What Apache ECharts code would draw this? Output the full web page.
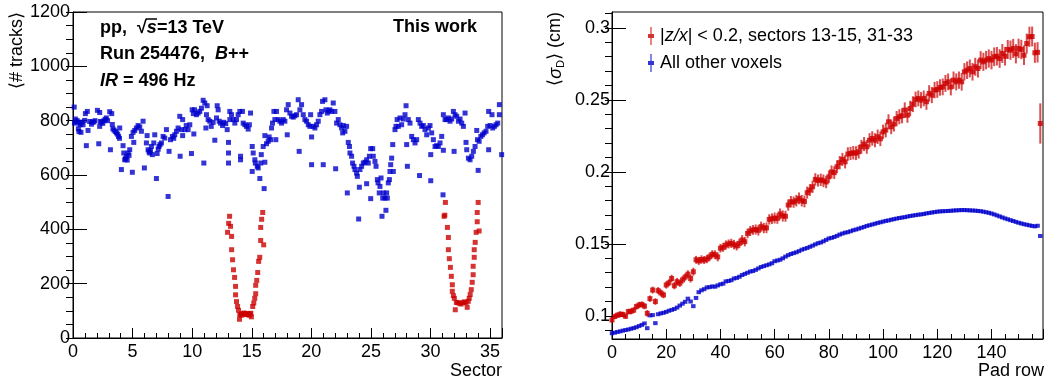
<!DOCTYPE html>
<html>
<head>
<meta charset="utf-8">
<script src="https://cdn.jsdelivr.net/npm/echarts@6/dist/echarts.min.js"></script>
<style>html,body{margin:0;padding:0;background:#fff}#c{width:1057px;height:387px}</style>
</head>
<body>
<div id="c"></div>
<script>
// ---------- Left panel: <# tracks> vs sector ----------
const blueSectorTracks = [
[0.1,850],[0.12,791],[0.2,806],[0.28,795],[0.35,800],[0.45,770],[0.5,760],[0.56,791],[0.6,785],[0.67,757],[0.75,795],[0.84,785],[0.98,801],[1.04,826],[1.12,708],[1.2,834],[1.26,764],[1.4,797],[1.55,787],[1.62,795],[1.75,795],[1.85,800],[2.05,838],[2.16,715],[2.24,830],[2.24,779],[2.3,797],[2.4,795],[2.5,790],[2.6,800],[2.7,805],[2.8,810],[2.9,800],[3.08,833],[3.14,693],[3.25,826],[3.3,786],[3.35,770],[3.45,765],[3.55,760],[3.65,755],[3.75,750],[3.82,742],[3.9,735],[3.92,773],
[4.06,620],[4.2,708],[4.26,681],[4.34,656],[4.4,660],[4.48,669],[4.55,655],[4.62,681],[4.7,672],[4.76,693],[4.9,742],[4.98,610],[5.04,757],[5.1,720],[5.18,764],[5.32,773],[5.46,782],[5.6,777],[5.74,761],[5.88,798],[5.99,626],[6.16,718],[6.22,745],[6.3,693],[6.38,685],[6.44,681],[6.5,690],[6.58,705],[6.66,675],[6.78,718],[6.86,748],[7.0,587],[7.06,679],[7.15,695],[7.22,705],[7.3,712],[7.42,718],[7.56,742],[7.7,736],[7.84,767],[7.98,521],
[8.06,687],[8.18,730],[8.34,742],[8.45,735],[8.54,748],[8.68,761],[8.82,773],[8.96,816],[8.99,669],[9.1,767],[9.2,804],[9.2,745],[9.4,767],[9.5,782],[9.66,767],[9.8,785],[9.94,679],[10.0,840],[10.1,826],[10.14,751],[10.2,840],[10.36,822],[10.5,828],[10.64,834],[10.78,846],[10.92,875],[10.98,644],[11.06,865],[11.15,773],[11.2,822],[11.26,855],[11.34,804],[11.48,798],[11.6,779],[11.76,794],[11.9,728],
[12.04,810],[12.1,855],[12.18,840],[12.27,798],[12.38,791],[12.55,782],[12.66,794],[12.82,789],[12.94,767],[13.05,720],[13.05,681],[13.05,644],[13.16,834],[13.16,804],[13.3,822],[13.44,804],[13.58,791],[13.72,804],[13.86,822],[14.0,834],[14.06,669],[14.06,656],[14.22,834],[14.28,791],[14.42,785],[14.56,779],[14.7,769],[14.8,785],[14.9,828],
[15.04,705],[15.04,613],[15.12,681],[15.26,656],[15.3,644],[15.46,632],[15.54,626],[15.68,587],[15.76,644],[15.8,675],[15.96,705],[16.04,550],[16.1,647],[16.1,745],[16.24,715],[16.38,724],[16.46,740],[16.58,730],[16.66,773],[16.74,791],[16.86,834],[16.94,804],[17.02,730],[17.08,834],[17.22,804],[17.36,798],[17.5,791],[17.64,804],[17.78,798],[17.92,840],[17.98,748],
[18.06,859],[18.2,828],[18.34,816],[18.48,813],[18.62,818],[18.76,822],[18.9,877],[18.98,687],[19.04,840],[19.18,859],[19.32,822],[19.46,804],[19.6,798],[19.74,785],[19.88,779],[19.94,822],[20.02,740],[20.02,638],[20.16,779],[20.3,773],[20.44,785],[20.58,798],[20.72,822],[20.86,834],[20.94,871],[21.0,638],[21.14,877],[21.23,840],[21.34,828],[21.45,835],[21.56,840],[21.7,834],[21.84,865],[21.98,834],
[22.04,623],[22.12,791],[22.26,804],[22.4,785],[22.54,773],[22.63,755],[22.68,782],[22.82,761],[22.96,779],[23.02,534],[23.1,720],[23.2,705],[23.24,681],[23.38,669],[23.46,644],[23.58,632],[23.66,620],[23.8,607],[23.86,595],[23.97,438],[24.03,555],[24.08,620],[24.22,632],[24.36,644],[24.5,647],[24.64,568],[24.64,656],[24.78,644],[24.87,669],[24.98,513],[24.98,697],
[25.15,697],[25.2,669],[25.34,650],[25.43,632],[25.54,583],[25.6,571],[25.7,534],[25.76,558],[25.85,589],[25.93,448],[25.99,515],[26.04,534],[26.18,515],[26.26,470],[26.32,534],[26.38,515],[26.46,571],[26.55,583],[26.6,613],[26.66,638],[26.74,662],[26.83,712],[26.88,613],
[27.02,767],[27.1,779],[27.2,804],[27.3,779],[27.44,810],[27.58,785],[27.72,806],[27.86,822],[27.95,855],[28.0,712],[28.06,632],[28.14,804],[28.28,791],[28.42,742],[28.56,730],[28.7,718],[28.84,730],[28.98,804],[29.08,598],[29.12,791],[29.26,779],[29.4,782],[29.54,767],[29.68,748],[29.82,773],[29.96,782],
[30.02,579],[30.02,675],[30.1,755],[30.24,730],[30.38,705],[30.52,708],[30.66,705],[30.8,718],[30.94,742],[31.05,527],[31.08,691],[31.08,822],[31.22,804],[31.36,804],[31.5,810],[31.64,798],[31.78,806],[31.92,834],[31.98,687],[32.06,822],[32.2,816],[32.34,798],[32.48,806],[32.62,791],[32.76,779],[32.9,828],[32.98,720],
[33.04,693],[33.18,662],[33.32,656],[33.46,669],[33.6,687],[33.74,705],[33.88,764],[33.94,730],[34.0,617],[34.08,724],[34.22,742],[34.36,748],[34.5,755],[34.66,761],[34.8,779],[34.88,834],[34.88,693],[35.0,782],[35.16,822],[35.22,773],[35.36,779],[35.5,785],[35.64,791],[35.78,859],[35.78,822],[35.97,675]
];
const redSectorTracks = [
[12.97,389],[13.06,422],[13.14,448],[13.22,411],[13.31,374],[13.31,325],[13.39,288],[13.47,251],[13.56,223],[13.64,190],[13.64,159],[13.72,134],[13.81,116],[13.89,102],[13.97,69],[14.0,86],[14.08,88],[14.17,84],[14.26,90],[14.36,92],[14.45,88],[14.5,87],[14.6,90],[14.64,88],[14.72,86],[14.78,84],[14.86,89],[14.92,91],[14.97,78],[15.08,116],[15.17,129],[15.25,146],[15.33,163],[15.33,194],[15.42,212],[15.5,241],[15.58,282],[15.67,297],[15.75,359],[15.75,407],[15.83,437],[15.92,462],[16.0,343],
[31.14,448],[31.2,452],[31.25,499],[31.42,407],[31.5,370],[31.5,325],[31.58,292],[31.67,260],[31.75,227],[31.83,196],[31.83,172],[31.92,156],[32.0,146],[32.08,104],[32.17,131],[32.28,130],[32.42,128],[32.56,125],[32.7,130],[32.83,133],[32.97,130],[33.08,113],[33.17,135],[33.25,146],[33.33,160],[33.42,178],[33.5,205],[33.58,233],[33.58,264],[33.67,297],[33.67,325],[33.75,352],[33.83,389],[33.92,428],[33.92,462],[34.0,499],[34.08,394]
];
const sectorTickLabels = [0,5,10,15,20,25,30,35];
const tracksTickLabels = [0,200,400,600,800,1000,1200];

// ---------- Right panel: <sigma_D> vs pad row (rows 0..158) ----------
const redSigma = [
.0972,.0996,.1005,.1012,.1010,.0998,.1030,.1032,.1040,.1065,
.1076,.1080,.1068,.1018,.1120,.1180,.1100,.1176,.1160,.1146,
.1215,.1230,.1260,.1210,.1238,.1227,.1250,.1270,.1290,.1260,
.1307,.1390,.1382,.1392,.1388,.1395,.1410,.1428,.1425,.1410,
.1470,.1476,.1492,.1500,.1504,.1495,.1486,.1504,.1527,.1516,
.1573,.1590,.1597,.1600,.1594,.1620,.1610,.1612,.1670,.1675,
.1680,.1677,.1708,.1694,.1692,.1770,.1793,.1790,.1800,.1816,
.1800,.1795,.1856,.1874,.1897,.1948,.1940,.1945,.1938,.1930,
.1966,.2000,.1995,.2036,.2064,.2087,.2070,.2124,.2128,.2133,
.2130,.2140,.2174,.2193,.2174,.2220,.2232,.2220,.2244,.2230,
.2278,.2290,.2348,.2313,.2332,.2370,.2383,.2390,.2429,.2394,
.2440,.2470,.2503,.2510,.2498,.2510,.2487,.2545,.2533,.2568,
.2572,.2586,.2590,.2614,.2625,.2590,.2637,.2625,.2637,.2625,
.2695,.2706,.2718,.2695,.2730,.2718,.2776,.2764,.2776,.2787,
.2776,.2799,.2803,.2787,.2822,.2803,.2850,.2845,.2857,.2820,
.2857,.2850,.2810,.2891,.2938,.2940,.2827,.2830,.2336
];
const redSigmaErr = [
.0020,.0019,.0020,.0021,.0020,.0019,.0020,.0021,.0020,.0021,
.0022,.0021,.0022,.0023,.0022,.0024,.0023,.0024,.0025,.0024,
.0025,.0024,.0026,.0025,.0026,.0025,.0027,.0026,.0027,.0028,
.0028,.0027,.0028,.0029,.0028,.0029,.0030,.0029,.0030,.0031,
.0030,.0031,.0032,.0031,.0032,.0033,.0032,.0033,.0034,.0033,
.0034,.0035,.0034,.0035,.0036,.0035,.0036,.0037,.0036,.0037,
.0038,.0037,.0038,.0039,.0038,.0039,.0040,.0039,.0040,.0041,
.0040,.0041,.0042,.0041,.0042,.0043,.0042,.0043,.0044,.0043,
.0044,.0045,.0044,.0045,.0046,.0045,.0046,.0047,.0046,.0047,
.0048,.0047,.0048,.0049,.0048,.0049,.0050,.0049,.0050,.0051,
.0050,.0051,.0052,.0051,.0052,.0053,.0052,.0053,.0054,.0053,
.0054,.0055,.0054,.0055,.0056,.0055,.0056,.0057,.0056,.0057,
.0058,.0057,.0058,.0059,.0058,.0059,.0060,.0059,.0060,.0061,
.0060,.0061,.0062,.0061,.0062,.0063,.0062,.0063,.0064,.0063,
.0064,.0065,.0064,.0065,.0066,.0065,.0066,.0067,.0066,.0067,
.0068,.0067,.0068,.0069,.0070,.0069,.0070,.0071,.0140
];
const blueSigma = [
.0880,.0884,.0889,.0893,.0898,.0902,.0906,.0911,.0916,.0922,
.0930,.0938,.0948,.0915,.1004,.1006,.0950,.1012,.1018,.1022,
.1028,.1036,.1042,.1048,.1058,.1072,.1085,.1098,.1120,.1100,
.1068,.1125,.1165,.1178,.1186,.1198,.1200,.1205,.1203,.1212,
.1220,.1224,.1240,.1243,.1248,.1260,.1264,.1272,.1284,.1292,
.1300,.1308,.1312,.1320,.1330,.1340,.1346,.1352,.1358,.1366,
.1380,.1385,.1390,.1400,.1412,.1422,.1430,.1436,.1442,.1450,
.1460,.1466,.1472,.1480,.1488,.1497,.1505,.1510,.1518,.1528,
.1538,.1542,.1548,.1556,.1565,.1572,.1578,.1582,.1588,.1595,
.1600,.1606,.1612,.1618,.1625,.1630,.1635,.1640,.1646,.1650,
.1655,.1660,.1663,.1668,.1672,.1676,.1680,.1683,.1686,.1690,
.1694,.1697,.1700,.1703,.1705,.1708,.1712,.1715,.1718,.1721,
.1724,.1726,.1727,.1728,.1729,.1730,.1732,.1733,.1734,.1735,
.1735,.1734,.1733,.1732,.1731,.1729,.1727,.1724,.1720,.1716,
.1711,.1705,.1698,.1691,.1684,.1677,.1671,.1665,.1659,.1653,
.1647,.1642,.1637,.1633,.1629,.1625,.1622,.1626,.1555
];
const padRowTickLabels = [0,20,40,60,80,100,120,140];
const sigmaTickLabels = [0.1,0.15,0.2,0.25,0.3];
const sigmaMinorTicks = [0.09,0.1,0.11,0.12,0.13,0.14,0.15,0.16,0.17,0.18,0.19,0.2,0.21,0.22,0.23,0.24,0.25,0.26,0.27,0.28,0.29,0.3,0.31];
const legendNames = ['|z/x| < 0.2, sectors 13-15, 31-33', 'All other voxels'];

// ---------- styling ----------
const FONT = 'Liberation Sans, Arial, Helvetica, sans-serif';
const BLUE = '#0000cc', RED = '#cc0000';
const chart = echarts.init(document.getElementById('c'), null, {renderer: 'canvas'});

function majorX(grid, max, interval, labels, len) {
  return {type:'value', gridIndex:grid, min:0, max:max, interval:interval, position:'bottom',
    axisLine:{show:true, lineStyle:{color:'#000', width:1}},
    axisTick:{show:true, inside:true, length:len, lineStyle:{color:'#000', width:1}},
    axisLabel:{show:true, margin:5, color:'#000', fontSize:18, fontFamily:FONT,
      formatter: v => labels.indexOf(v) >= 0 ? String(v) : ''},
    splitLine:{show:false}};
}
function minorX(grid, max, interval, len) {
  return {type:'value', gridIndex:grid, min:0, max:max, interval:interval, position:'bottom',
    axisLine:{show:false}, axisTick:{show:true, inside:true, length:len, lineStyle:{color:'#000', width:1}},
    axisLabel:{show:false}, splitLine:{show:false}};
}

const sqrtAnchor = {x: 146, y: 19};

const option = {
  animation: false,
  backgroundColor: '#fff',
  grid: [
    {left:73, top:12, width:429, height:326, show:true, borderColor:'#000', borderWidth:1, backgroundColor:'transparent'},
    {left:612, top:12, width:431, height:327, show:true, borderColor:'#000', borderWidth:1, backgroundColor:'transparent'}
  ],
  xAxis: [
    majorX(0, 36, 5, sectorTickLabels, 10),
    minorX(0, 36, 1, 5),
    majorX(1, 159, 20, padRowTickLabels, 10),
    minorX(1, 159, 5, 5)
  ],
  yAxis: [
    {type:'value', gridIndex:0, min:0, max:1200, interval:200,
      axisLine:{show:true, lineStyle:{color:'#000'}},
      axisTick:{show:true, inside:true, length:14, lineStyle:{color:'#000'}},
      axisLabel:{margin:3, color:'#000', fontSize:18, fontFamily:FONT,
        formatter: v => tracksTickLabels.indexOf(v) >= 0 ? String(v) : ''},
      splitLine:{show:false}},
    {type:'value', gridIndex:0, min:0, max:1200, interval:50,
      axisLine:{show:false}, axisTick:{show:true, inside:true, length:7, lineStyle:{color:'#000'}},
      axisLabel:{show:false}, splitLine:{show:false}},
    {type:'value', gridIndex:1, min:0.084, max:0.311,
      axisLine:{show:true, lineStyle:{color:'#000'}},
      axisTick:{show:true, inside:true, length:14, customValues:sigmaTickLabels, lineStyle:{color:'#000'}},
      axisLabel:{margin:2, color:'#000', fontSize:18, fontFamily:FONT, customValues:sigmaTickLabels,
        formatter: v => String(+v.toFixed(2))},
      splitLine:{show:false}},
    {type:'value', gridIndex:1, min:0.084, max:0.311,
      axisLine:{show:false},
      axisTick:{show:true, inside:true, length:7, customValues:sigmaMinorTicks, lineStyle:{color:'#000'}},
      axisLabel:{show:false}, splitLine:{show:false}}
  ],
  legend: {
    data: legendNames, orient:'vertical', left:643, top:22, itemGap:9, itemWidth:6, itemHeight:18,
    icon: 'path://M2.4,0h1.2v7h2.4v4h-2.4v7h-1.2v-7h-2.4v-4h2.4z',
    selectedMode:false,
    textStyle:{fontSize:18, fontFamily:FONT, color:'#000', padding:[0,0,0,1],
      rich:{i:{fontSize:18, fontFamily:FONT, fontStyle:'italic', color:'#000'},
            n:{fontSize:18, fontFamily:FONT, color:'#000'}}},
    formatter: name => name === legendNames[0] ? '{n||}{i|z/x}{n|| < 0.2, sectors 13-15, 31-33}' : '{n|' + name + '}'
  },
  series: [
    {type:'scatter', name:'left-blue', xAxisIndex:0, yAxisIndex:0, symbol:'rect', symbolSize:5,
      itemStyle:{color:BLUE}, data: blueSectorTracks, silent:true},
    {type:'scatter', name:'left-red', xAxisIndex:0, yAxisIndex:0, symbol:'rect', symbolSize:5,
      itemStyle:{color:RED}, data: redSectorTracks, silent:true},
    {type:'scatter', name:legendNames[1], xAxisIndex:2, yAxisIndex:2, symbol:'rect', symbolSize:[4.5,4],
      itemStyle:{color:BLUE}, data: blueSigma.map((v,i)=>[i,v]), silent:true},
    {type:'custom', name:'red-err', xAxisIndex:2, yAxisIndex:2, silent:true,
      data: redSigma.map((v,i)=>[i,v,redSigmaErr[i]]),
      renderItem: (params, api) => {
        const x = api.value(0), y = api.value(1), e = api.value(2);
        const p1 = api.coord([x, y - e]), p2 = api.coord([x, y + e]);
        return {type:'line', shape:{x1:p1[0], y1:p1[1], x2:p2[0], y2:p2[1]},
          style:{stroke:RED, lineWidth:2, opacity:0.7}};
      }},
    {type:'scatter', name:legendNames[0], xAxisIndex:2, yAxisIndex:2, symbol:'rect', symbolSize:5,
      itemStyle:{color:RED}, data: redSigma.map((v,i)=>[i,v]), silent:true}
  ],
  graphic: [
    {type:'text', x:8, y:12, rotation:Math.PI/2,
      style:{text:'\u27E8# tracks\u27E9', font:'18px ' + FONT, fill:'#000', align:'right', verticalAlign:'top'}},
    {type:'text', x:545, y:12, rotation:Math.PI/2,
      style:{text:'{b|\u27E8}{i|\u03C3}{s|D}{b|\u27E9 (cm)}', align:'right', verticalAlign:'top', fill:'#000',
        rich:{b:{fontSize:18, fontFamily:FONT, fill:'#000'},
              i:{fontSize:18, fontFamily:FONT, fontStyle:'italic', fill:'#000'},
              s:{fontSize:11, fontFamily:FONT, fill:'#000', padding:[10,0,0,0]}}}},
    {type:'text', x:502, y:362, style:{text:'Sector', font:'18px ' + FONT, fill:'#000', align:'right', verticalAlign:'top'}},
    {type:'text', x:1044, y:362, style:{text:'Pad row', font:'18px ' + FONT, fill:'#000', align:'right', verticalAlign:'top'}},
    {type:'text', x:100, y:28, style:{text:'{b|pp,  \u221A}{bi|s}{b|=13 TeV}', verticalAlign:'middle', align:'left',
      rich:{b:{fontSize:18, fontFamily:FONT, fontWeight:'bold', fill:'#000'},
            bi:{fontSize:18, fontFamily:FONT, fontWeight:'bold', fontStyle:'italic', fill:'#000'}}}},
    {type:'line', shape:{x1:sqrtAnchor.x, y1:sqrtAnchor.y, x2:sqrtAnchor.x + 11, y2:sqrtAnchor.y}, style:{stroke:'#000', lineWidth:1.5}},
    {type:'text', x:100, y:54.5, style:{text:'{b|Run 254476,  }{bi|B}{b|++}', verticalAlign:'middle', align:'left',
      rich:{b:{fontSize:18, fontFamily:FONT, fontWeight:'bold', fill:'#000'},
            bi:{fontSize:18, fontFamily:FONT, fontWeight:'bold', fontStyle:'italic', fill:'#000'}}}},
    {type:'text', x:100, y:81.5, style:{text:'{bi|IR}{b| = 496 Hz}', verticalAlign:'middle', align:'left',
      rich:{b:{fontSize:18, fontFamily:FONT, fontWeight:'bold', fill:'#000'},
            bi:{fontSize:18, fontFamily:FONT, fontWeight:'bold', fontStyle:'italic', fill:'#000'}}}},
    {type:'text', x:477, y:27.5, style:{text:'This work', font:'bold 18px ' + FONT, fill:'#000', align:'right', verticalAlign:'middle'}}
  ]
};
chart.setOption(option);
</script>
</body>
</html>
